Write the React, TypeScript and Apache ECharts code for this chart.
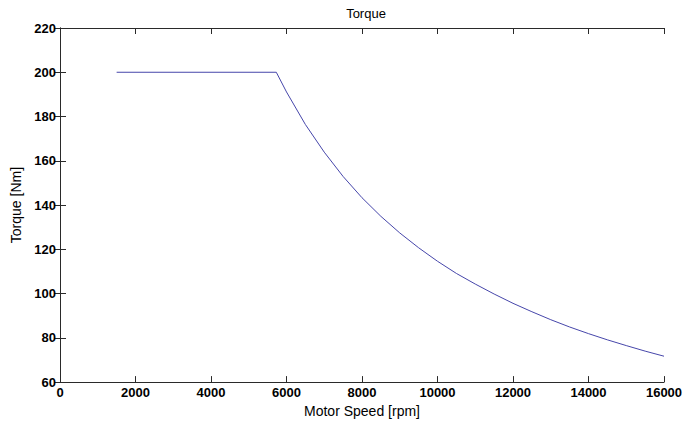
import React, { useEffect, useRef } from "react";
import * as echarts from "echarts";

// Motor speed (rpm) and the corresponding torque (Nm)
const speedRpm = [
  1500, 5730, 6000, 6500, 7000, 7500, 8000, 8500, 9000, 9500, 10000, 10500,
  11000, 11500, 12000, 12500, 13000, 13500, 14000, 14500, 15000, 15500, 16000,
];
const torqueNm = [
  200, 200, 191.1, 176.4, 163.9, 152.9, 143.3, 134.9, 127.4, 120.7, 114.6,
  109.1, 104.3, 99.8, 95.6, 91.8, 88.2, 84.9, 81.9, 79.1, 76.5, 74.0, 71.7,
];

const xTicks = { min: 0, max: 16000, interval: 2000 };
const yTicks = { min: 60, max: 220, interval: 20 };

const FONT = "'Liberation Sans', Arial, sans-serif";
const AXIS_COLOR = "#2a2a2a";

export default function App() {
  const ref = useRef<HTMLDivElement>(null);

  useEffect(() => {
    if (!ref.current) return;
    const chart = echarts.init(ref.current, null, { renderer: "svg" });
    const tickStyle = {
      show: true,
      inside: true,
      length: 6,
      lineStyle: { color: AXIS_COLOR, width: 1 },
    };
    const lineStyle = { color: AXIS_COLOR, width: 1 };
    const tickLabel = {
      fontFamily: FONT,
      fontSize: 13,
      fontWeight: "bold",
      color: "#000",
      formatter: (v: number) => String(v),
    };
    chart.setOption({
      animation: false,
      backgroundColor: "#fff",
      title: {
        text: "Torque",
        left: 361,
        top: 2,
        textAlign: "center",
        textStyle: { fontFamily: FONT, fontSize: 13, fontWeight: "normal", color: "#000" },
      },
      grid: { left: 60, right: 30, top: 28, bottom: 35 },
      xAxis: [
        {
          type: "value",
          ...xTicks,
          position: "bottom",
          name: "Motor Speed [rpm]",
          nameLocation: "middle",
          nameGap: 20,
          nameTextStyle: { fontFamily: FONT, fontSize: 14, color: "#000" },
          axisLine: { show: true, lineStyle },
          axisTick: tickStyle,
          axisLabel: { ...tickLabel, margin: 4 },
          splitLine: { show: false },
        },
        {
          type: "value",
          ...xTicks,
          position: "top",
          axisLine: { show: true, lineStyle },
          axisTick: tickStyle,
          axisLabel: { show: false },
          splitLine: { show: false },
        },
      ],
      yAxis: [
        {
          type: "value",
          ...yTicks,
          position: "left",
          name: "Torque [Nm]",
          nameLocation: "middle",
          nameGap: 31,
          nameRotate: 90,
          nameTextStyle: { fontFamily: FONT, fontSize: 14, color: "#000" },
          axisLine: { show: true, lineStyle },
          axisTick: tickStyle,
          axisLabel: { ...tickLabel, margin: 4 },
          splitLine: { show: false },
        },
        {
          type: "value",
          ...yTicks,
          position: "right",
          axisLine: { show: true, lineStyle },
          axisTick: tickStyle,
          axisLabel: { show: false },
          splitLine: { show: false },
        },
      ],
      series: [
        {
          type: "line",
          data: speedRpm.map((s, i) => [s, torqueNm[i]]),
          smooth: false,
          showSymbol: false,
          symbol: "none",
          lineStyle: { color: "#4646aa", width: 1 },
        },
      ],
    });
    return () => chart.dispose();
  }, []);

  return (
    <div
      ref={ref}
      style={{ position: "fixed", left: 0, top: 0, width: 694, height: 423 }}
    />
  );
}
